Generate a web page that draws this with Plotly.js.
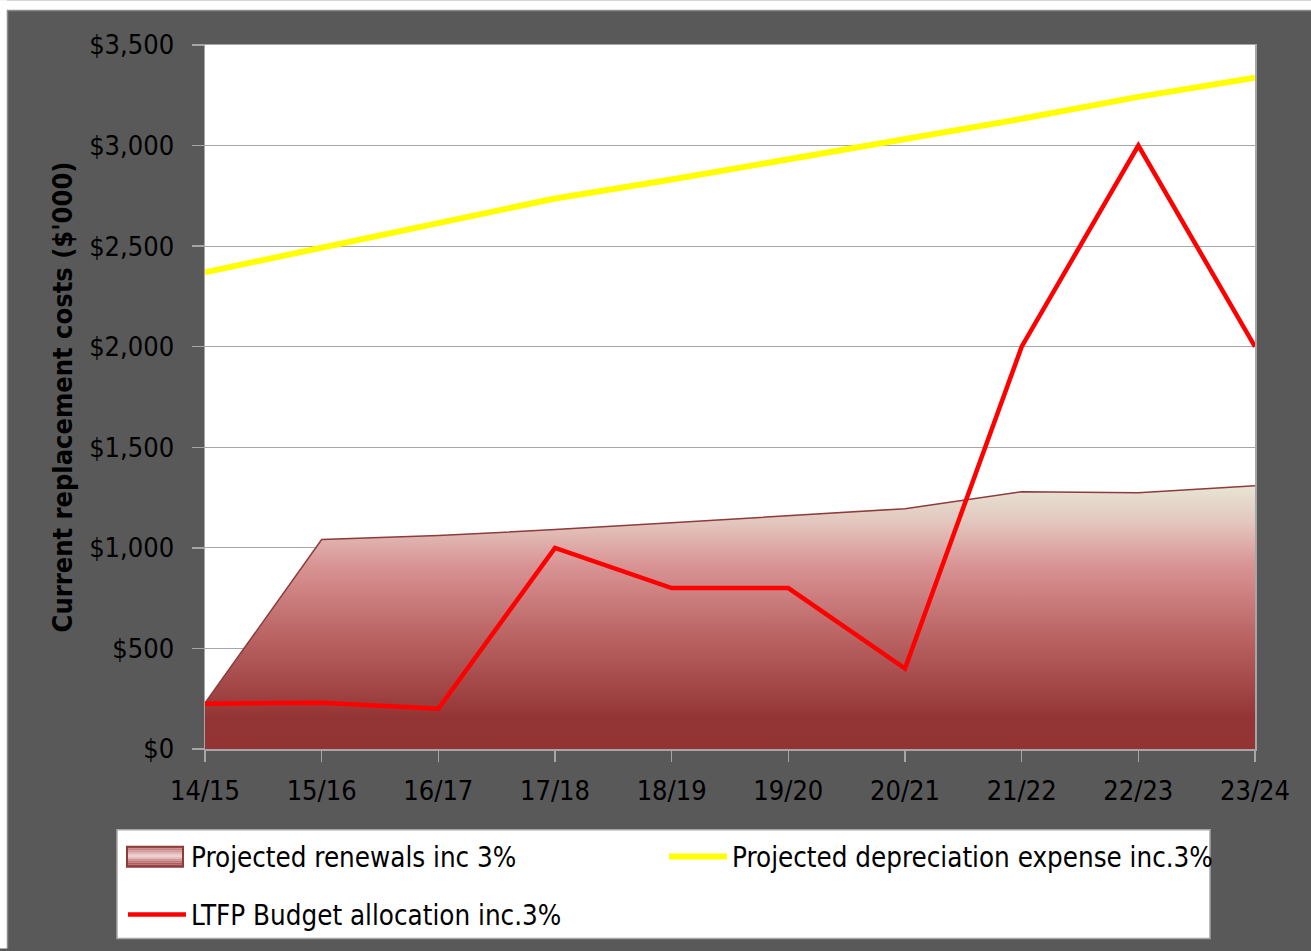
<!DOCTYPE html>
<html>
<head>
<meta charset="utf-8">
<script src="https://cdn.plot.ly/plotly-3.0.1.min.js"></script>
<style>
  html, body { margin: 0; padding: 0; background: #ffffff; }
  #chart { width: 1311px; height: 951px; }
</style>
</head>
<body>
<div id="chart"></div>
<script>
// ---- data ----
const years = ["14/15", "15/16", "16/17", "17/18", "18/19", "19/20", "20/21", "21/22", "22/23", "23/24"];
const renewals = [228, 1041, 1061, 1091, 1125, 1160, 1195, 1279, 1274, 1309];
const depreciation = [2370, 2494, 2613, 2737, 2831, 2930, 3034, 3133, 3242, 3337];
const budget = [225, 230, 200, 1000, 800, 800, 400, 2000, 3000, 2000];
const seriesNames = ["Projected renewals inc 3%", "Projected depreciation expense inc.3%", "LTFP Budget allocation inc.3%"];
const yTickVals = [0, 500, 1000, 1500, 2000, 2500, 3000, 3500];
const yTickText = yTickVals.map(v => '$' + v.toLocaleString('en-US'));
const yTitle = "Current replacement costs ($'000)";

const FONT = "'Liberation Sans Narrow', 'Arial Narrow', 'DejaVu Sans Condensed', 'Liberation Sans', Arial, sans-serif";

// plot area pixels
const W = 1311, H = 951;
const L = 205, R = 1255, T = 45, B = 751;
const pw = R - L, ph = B - T;
const px = x => (x - L) / pw;
const py = y => (B - y) / ph;

const traces = [
  {
    x: years, y: renewals, name: seriesNames[0],
    type: 'scatter', mode: 'lines', fill: 'tozeroy',
    line: { color: '#8e3b3b', width: 1.5 },
    fillcolor: '#b85c5c',
    fillgradient: {
      type: 'vertical', start: 0, stop: 1310,
      colorscale: [[0, '#933333'], [0.12, '#943535'], [0.45, '#bd6767'], [0.7, '#d99494'], [0.86, '#e3c6be'], [1, '#e7e5d5']]
    },
    showlegend: false
  },
  // legend-only entry for the area (its symbol is drawn as shapes below)
  {
    x: [null], y: [null], name: seriesNames[0],
    type: 'scatter', mode: 'lines',
    line: { color: 'rgba(0,0,0,0)', width: 0 },
    legend: 'legend', hoverinfo: 'skip'
  },
  {
    x: years, y: depreciation, name: seriesNames[1],
    type: 'scatter', mode: 'lines',
    line: { color: '#ffff00', width: 6 },
    legend: 'legend2'
  },
  {
    x: years, y: budget, name: seriesNames[2],
    type: 'scatter', mode: 'lines',
    line: { color: '#ff0000', width: 4.5 },
    legend: 'legend3'
  }
];

const legendBase = {
  orientation: 'h', bgcolor: 'rgba(0,0,0,0)', borderwidth: 0,
  font: { family: FONT, size: 27.5, color: '#000000' },
  itemwidth: 58, xanchor: 'left', yanchor: 'middle', itemclick: false, itemdoubleclick: false
};

// gradient legend symbol for the area series, built from thin stripes
const symX0 = 127, symX1 = 183, symY0 = 849, symY1 = 869;
const symColors = ['#c07272', '#c98484', '#d69a9a', '#e2b7b7', '#ead0d0', '#e3bcbc', '#d19292', '#c07474', '#ae5d5d', '#a14d4d'];
const symShapes = symColors.map((c, i) => {
  const h = (symY1 - symY0) / symColors.length;
  return { type: 'rect', xref: 'paper', yref: 'paper',
    x0: px(symX0), x1: px(symX1), y0: py(symY0 + (i + 1) * h), y1: py(symY0 + i * h),
    fillcolor: c, line: { width: 0 }, layer: 'above' };
});
symShapes.push({ type: 'rect', xref: 'paper', yref: 'paper',
  x0: px(symX0), x1: px(symX1), y0: py(symY1), y1: py(symY0),
  fillcolor: 'rgba(0,0,0,0)', line: { color: '#8e3b3b', width: 2 }, layer: 'above' });

const layout = {
  width: W, height: H,
  margin: { l: L, r: W - R, t: T, b: H - B, pad: 0 },
  paper_bgcolor: '#595959',
  plot_bgcolor: '#ffffff',
  font: { family: FONT, size: 27, color: '#000000' },
  showlegend: true,
  xaxis: {
    type: 'category', range: [0, 9],
    showgrid: false, zeroline: false,
    showline: true, linecolor: '#a6a6a6', linewidth: 1.5, mirror: true,
    ticks: 'outside', ticklen: 11, tickcolor: '#a6a6a6', tickwidth: 1.5,
    ticklabelstandoff: 6,
    tickfont: { family: FONT, size: 27, color: '#000000' }
  },
  yaxis: {
    range: [0, 3500], tickmode: 'array', tickvals: yTickVals, ticktext: yTickText,
    showgrid: true, gridcolor: '#a6a6a6', gridwidth: 1.2, zeroline: false,
    showline: true, linecolor: '#a6a6a6', linewidth: 1.5, mirror: true,
    ticks: 'outside', ticklen: 12, tickcolor: '#a6a6a6', tickwidth: 1.5,
    ticklabelstandoff: 12,
    tickfont: { family: FONT, size: 27, color: '#000000' },
    title: { text: yTitle, font: { family: FONT, size: 27, color: '#000000', weight: 'bold' }, standoff: 8 }
  },
  legend: Object.assign({}, legendBase, { x: px(123), y: py(859) }),
  legend2: Object.assign({}, legendBase, { x: px(664), y: py(859) }),
  legend3: Object.assign({}, legendBase, { x: px(123), y: py(917) }),
  shapes: [
    // legend box
    { type: 'rect', xref: 'paper', yref: 'paper', x0: px(117), x1: px(1210), y0: py(941), y1: py(832),
      fillcolor: '#ffffff', line: { color: '#a6a6a6', width: 1.5 }, layer: 'below' },
    // white page margin at top and left
    { type: 'rect', xref: 'paper', yref: 'paper', x0: px(0), x1: px(W), y0: py(10), y1: py(0),
      fillcolor: '#ffffff', line: { width: 0 }, layer: 'above' },
    { type: 'rect', xref: 'paper', yref: 'paper', x0: px(0), x1: px(7), y0: py(H), y1: py(0),
      fillcolor: '#ffffff', line: { width: 0 }, layer: 'above' },
    { type: 'line', xref: 'paper', yref: 'paper', x0: px(7), x1: px(W), y0: py(10.5), y1: py(10.5),
      line: { color: '#8c8c8c', width: 1.5 }, layer: 'above' },
    { type: 'line', xref: 'paper', yref: 'paper', x0: px(7.5), x1: px(7.5), y0: py(10), y1: py(H),
      line: { color: '#8c8c8c', width: 1.5 }, layer: 'above' }
  ].concat(symShapes)
};

Plotly.newPlot('chart', traces, layout, { displayModeBar: false, staticPlot: true });
</script>
</body>
</html>
